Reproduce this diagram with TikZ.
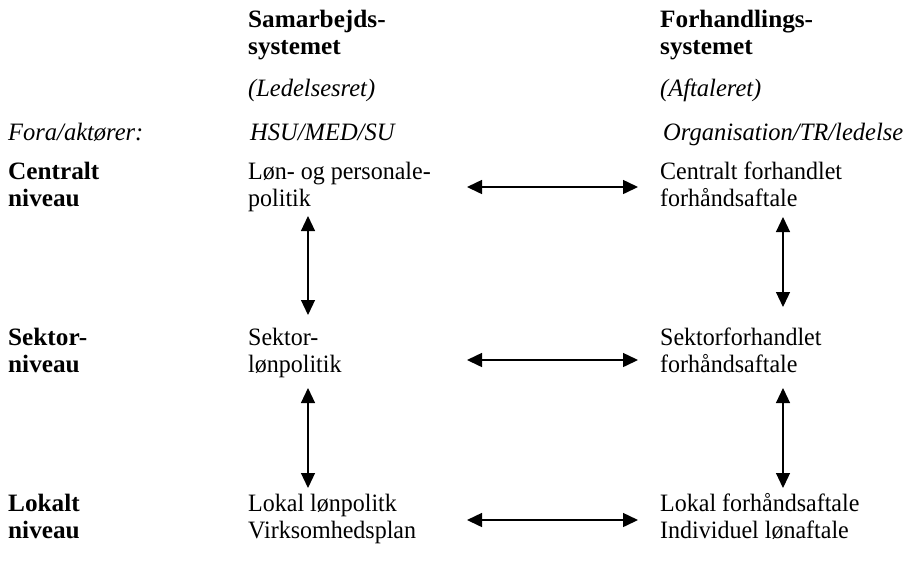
\documentclass[tikz,border=0pt]{standalone}
\usepackage{fontspec}
\setmainfont{Liberation Serif}[FakeStretch=0.96, BoldFeatures={FakeStretch=1.01}, ItalicFeatures={FakeStretch=0.98}]
\usetikzlibrary{arrows.meta}

\begin{document}
\begin{tikzpicture}[x=1pt, y=-1pt,
  cell/.style={anchor=base west, inner sep=0pt, align=left, font=\fontsize{25}{27}\selectfont},
  hdr/.style={cell, font=\fontsize{25}{27}\selectfont\bfseries},
  ital/.style={cell, font=\fontsize{25}{27}\selectfont\itshape},
  harrow/.style={{Triangle[length=15pt, width=14pt]}-{Triangle[length=15pt, width=14pt]}, line width=1.5pt},
  varrow/.style={{Triangle[length=15pt, width=14pt]}-{Triangle[length=15pt, width=14pt]}, line width=1.2pt}]
 \useasboundingbox (0,0) rectangle (909,566);
 % kolonneoverskrifter (base = sidste linje)
 \node[hdr] (samhead) at (248,54) {Samarbejds-\\systemet};
 \node[hdr] (forhead) at (660,54) {Forhandlings-\\systemet};
 \node[ital] (ledret) at (248,96) {(Ledelsesret)};
 \node[ital] (aftret) at (660,96) {(Aftaleret)};
 \node[ital] (fora) at (8,140) {Fora/aktører:};
 \node[ital] (hsu) at (250,140) {HSU/MED/SU};
 \node[ital] (org) at (663,140) {Organisation/TR/ledelse};
 % niveauer
 \node[hdr] (central) at (8,206) {Centralt\\niveau};
 \node[cell] (lonpol) at (248,206) {Løn- og personale-\\politik};
 \node[cell] (cforh) at (660,206) {Centralt forhandlet\\forhåndsaftale};
 \node[hdr] (sektor) at (8,372) {Sektor-\\niveau};
 \node[cell] (sekpol) at (248,372) {Sektor-\\lønpolitik};
 \node[cell] (sforh) at (660,372) {Sektorforhandlet\\forhåndsaftale};
 \node[hdr] (lokalt) at (8,538) {Lokalt\\niveau};
 \node[cell] (lokpol) at (248,538) {Lokal lønpolitk\\Virksomhedsplan};
 \node[cell] (lforh) at (660,538) {Lokal forhåndsaftale\\Individuel lønaftale};
 % vandrette pile
 \draw[harrow] ([shift={(219,-19)}]lonpol.base west) -- ([shift={(-22,-19)}]cforh.base west);
 \draw[harrow] ([shift={(219,-12)}]sekpol.base west) -- ([shift={(-22,-12)}]sforh.base west);
 \draw[harrow] ([shift={(219,-18)}]lokpol.base west) -- ([shift={(-22,-18)}]lforh.base west);
 % lodrette pile
 \draw[varrow] ([shift={(60,10)}]lonpol.base west) -- ([shift={(60,-57)}]sekpol.base west);
 \draw[varrow] ([shift={(60,16)}]sekpol.base west) -- ([shift={(60,-50)}]lokpol.base west);
 \draw[varrow] ([shift={(123,11)}]cforh.base west) -- ([shift={(123,-65)}]sforh.base west);
 \draw[varrow] ([shift={(123,16)}]sforh.base west) -- ([shift={(123,-50)}]lforh.base west);
\end{tikzpicture}
\end{document}
